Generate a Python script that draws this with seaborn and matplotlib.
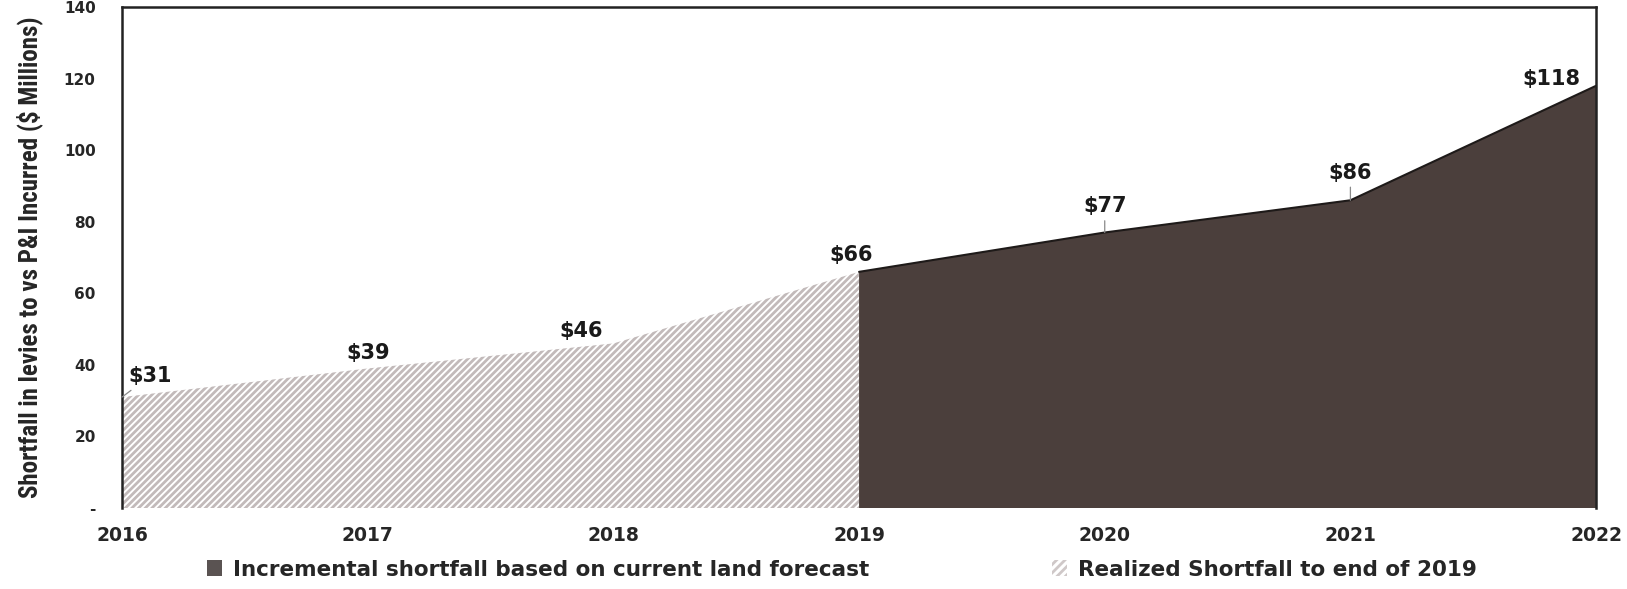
import matplotlib
matplotlib.use("Agg")
import matplotlib.pyplot as plt
from matplotlib.patches import Patch
import seaborn as sns
import pandas as pd

# data
years_realized = [2016, 2017, 2018, 2019]
realized = [31, 39, 46, 66]
years_forecast = [2019, 2020, 2021, 2022]
forecast = [66, 77, 86, 118]
tick_years = [2016, 2017, 2018, 2019, 2020, 2021, 2022]
y_ticks = [0, 20, 40, 60, 80, 100, 120, 140]
y_ticklabels = ["-", "20", "40", "60", "80", "100", "120", "140"]

label_years = [2016, 2017, 2018, 2019, 2020, 2021, 2022]
label_values = [31, 39, 46, 66, 77, 86, 118]
label_text = ["$" + str(v) for v in label_values]

sns.set_theme(style="white")
plt.rcParams["font.family"] = ["DejaVu Sans"]
plt.rcParams["hatch.color"] = "#c2baba"
plt.rcParams["hatch.linewidth"] = 2.0

dark = "#4b3f3c"

fig, ax = plt.subplots(figsize=(16.27, 5.89), dpi=100)
fig.subplots_adjust(left=0.075, right=0.981, top=0.988, bottom=0.1375)

df_r = pd.DataFrame({"year": years_realized, "value": realized})
df_f = pd.DataFrame({"year": years_forecast, "value": forecast})

ax.fill_between(df_r["year"], df_r["value"], 0, facecolor="white",
                edgecolor="#c2baba", hatch="/////", linewidth=0)
ax.fill_between(df_f["year"], df_f["value"], 0, facecolor=dark,
                edgecolor="none", linewidth=0)
sns.lineplot(data=df_f, x="year", y="value", ax=ax, color="#1e1a19",
             linewidth=1.5)

# value labels: text centre offset from the point, in points
offsets = [(20, 15), (0, 11), (-23, 9), (-6, 12), (0, 19), (0, 20), (-32, 5)]
leaders = [True, False, False, False, True, True, False]
for x, y, t, off, ld in zip(label_years, label_values, label_text, offsets, leaders):
    ax.annotate(t, xy=(x, y), xytext=off, textcoords="offset points",
                ha="center", va="center", fontsize=15, fontweight="bold",
                color="#1a1a1a",
                arrowprops=dict(arrowstyle="-", color="#8a8a8a", lw=0.9,
                                shrinkA=1, shrinkB=0) if ld else None)

ax.set_xlim(2016, 2022)
ax.set_ylim(0, 140)
ax.set_xticks(tick_years)
ax.set_xticklabels([str(y) for y in tick_years], fontsize=13.5, fontweight="bold")
ax.set_yticks(y_ticks)
ax.set_yticklabels(y_ticklabels, fontsize=11, fontweight="bold")
ax.tick_params(axis="x", pad=13, length=0)
ax.tick_params(axis="y", pad=19, length=0)
ax.set_xlabel("")
ax.set_ylabel("Shortfall in levies to vs P&I Incurred ($ Millions)",
              fontsize=18, fontweight="bold",
              family=["Roboto Condensed", "Lato", "DejaVu Sans"], labelpad=15)

for s in ax.spines.values():
    s.set_color("#222222")
    s.set_linewidth(1.8)
ax.spines["bottom"].set_visible(False)

handles = [Patch(facecolor="#5a5352", edgecolor="none"),
           Patch(facecolor="white", edgecolor="#cfc8c8", hatch="////", linewidth=0)]
labels = ["Incremental shortfall based on current land forecast",
          "Realized Shortfall to end of 2019"]
fig.legend(handles, labels, loc="center", ncol=2, frameon=False,
           bbox_to_anchor=(0.5175, 0.033), columnspacing=8.5,
           prop={"size": 15.5, "weight": "bold"}, handlelength=0.7,
           handleheight=0.7, handletextpad=0.5)

fig.savefig("out.png", dpi=100)
